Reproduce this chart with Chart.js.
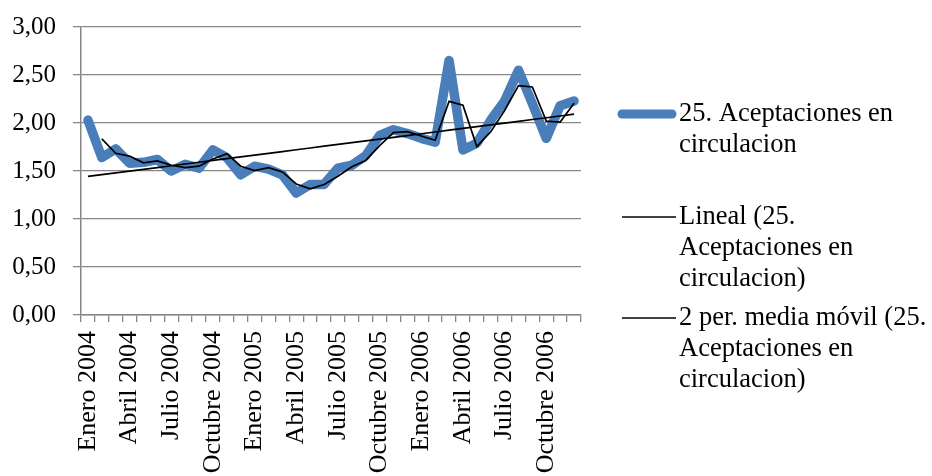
<!DOCTYPE html>
<html>
<head>
<meta charset="utf-8">
<script src="https://cdn.jsdelivr.net/npm/chart.js@4"></script>
<style>
  body { margin: 0; background: #fff; }
  #wrap { width: 932px; height: 476px; }
</style>
</head>
<body>
<div id="wrap"><canvas id="myChart"></canvas></div>
<script>
var months = ['Enero', 'Febrero', 'Marzo', 'Abril', 'Mayo', 'Junio', 'Julio', 'Agosto', 'Septiembre', 'Octubre', 'Noviembre', 'Diciembre'];
var years = [2004, 2005, 2006];
var labels = [];
years.forEach(function (y) { months.forEach(function (m) { labels.push(m + ' ' + y); }); });

// 25. Aceptaciones en circulacion, monthly values
var aceptaciones = [
  2.03, 1.64, 1.73, 1.58, 1.59, 1.62, 1.50, 1.57, 1.53, 1.72, 1.64, 1.46,
  1.55, 1.52, 1.46, 1.27, 1.36, 1.36, 1.53, 1.56, 1.66, 1.87, 1.93, 1.89,
  1.84, 1.80, 2.65, 1.72, 1.79, 2.03, 2.23, 2.55, 2.20, 1.84, 2.18, 2.23
];
var yTicks = [0, 0.5, 1, 1.5, 2, 2.5, 3];

// trend line and 2 period moving average, as the original chart derives them
var n = aceptaciones.length;
var sx = 0, sy = 0, sxx = 0, sxy = 0;
aceptaciones.forEach(function (v, i) { sx += i; sy += v; sxx += i * i; sxy += i * v; });
var slope = (n * sxy - sx * sy) / (n * sxx - sx * sx);
var icpt = (sy - slope * sx) / n;
var lineal = aceptaciones.map(function (v, i) { return icpt + slope * i; });
var media = aceptaciones.map(function (v, i) { return i === 0 ? null : (v + aceptaciones[i - 1]) / 2; });

var serif = '"Liberation Serif", "Times New Roman", serif';

var legendItems = [
  { lines: ['25. Aceptaciones en', 'circulacion'], color: '#4A7EBB', width: 9, x0: 618, y: 114 },
  { lines: ['Lineal (25.', 'Aceptaciones en', 'circulacion)'], color: '#000', width: 1.7, x0: 622, y: 217 },
  { lines: ['2 per. media móvil (25.', 'Aceptaciones en', 'circulacion)'], color: '#000', width: 1.7, x0: 622, y: 318 }
];

var sideLegend = {
  id: 'sideLegend',
  afterDraw: function (chart) {
    var c = chart.ctx;
    c.save();
    legendItems.forEach(function (it) {
      c.beginPath();
      c.lineCap = it.width > 3 ? 'round' : 'butt';
      c.strokeStyle = it.color;
      c.lineWidth = it.width;
      c.moveTo(it.x0 + (it.width > 3 ? 4 : 0), it.y);
      c.lineTo(676 - (it.width > 3 ? 4 : 0), it.y);
      c.stroke();
      c.fillStyle = '#000';
      c.font = '26.5px ' + serif;
      c.textBaseline = 'middle';
      it.lines.forEach(function (t, k) { c.fillText(t, 679, it.y + k * 31); });
    });
    c.restore();
  }
};

var ctx = document.getElementById('myChart').getContext('2d');
var myChart = new Chart(ctx, {
  type: 'line',
  data: {
    labels: labels,
    datasets: [{
      label: '25. Aceptaciones en circulacion',
      data: aceptaciones,
      borderColor: '#4A7EBB',
      borderWidth: 9.5,
      borderJoinStyle: 'round',
      borderCapStyle: 'round',
      pointRadius: 0,
      tension: 0,
      order: 3
    },
    {
      label: 'Lineal (25. Aceptaciones en circulacion)',
      data: lineal,
      borderColor: '#000',
      borderWidth: 1.7,
      pointRadius: 0,
      order: 2
    },
    {
      label: '2 per. media móvil (25. Aceptaciones en circulacion)',
      data: media,
      borderColor: '#000',
      borderWidth: 1.7,
      pointRadius: 0,
      order: 1
    }]
  },
  options: {
    responsive: true,
    maintainAspectRatio: false,
    animation: false,
    layout: { padding: { top: 27, right: 351, left: 0, bottom: 0 } },
    plugins: {
      legend: { display: false },
      tooltip: { enabled: false }
    },
    scales: {
      x: {
        offset: true,
        grid: { offset: true, drawOnChartArea: false, drawTicks: true, tickLength: 7, color: '#868686', lineWidth: 1.3 },
        border: { color: '#868686', width: 1.5 },
        ticks: {
          autoSkip: false,
          maxRotation: 90,
          minRotation: 90,
          padding: 9,
          color: '#000',
          font: { family: serif, size: 26 },
          callback: function (v, i) { return i % 3 === 0 ? labels[i] : ''; }
        },
        afterFit: function (s) { s.height = 161; }
      },
      y: {
        min: 0,
        max: 3,
        afterBuildTicks: function (s) { s.ticks = yTicks.map(function (v) { return { value: v }; }); },
        grid: { color: '#868686', lineWidth: 1.3, tickLength: 8 },
        border: { color: '#868686', width: 1.5 },
        ticks: {
          padding: 17,
          color: '#000',
          font: { family: serif, size: 25 },
          callback: function (v) { return v.toFixed(2).replace('.', ','); }
        },
        afterFit: function (s) { s.width = 81; s.paddingTop = 0; s.paddingBottom = 0; }
      }
    }
  },
  plugins: [sideLegend]
});
</script>
</body>
</html>
